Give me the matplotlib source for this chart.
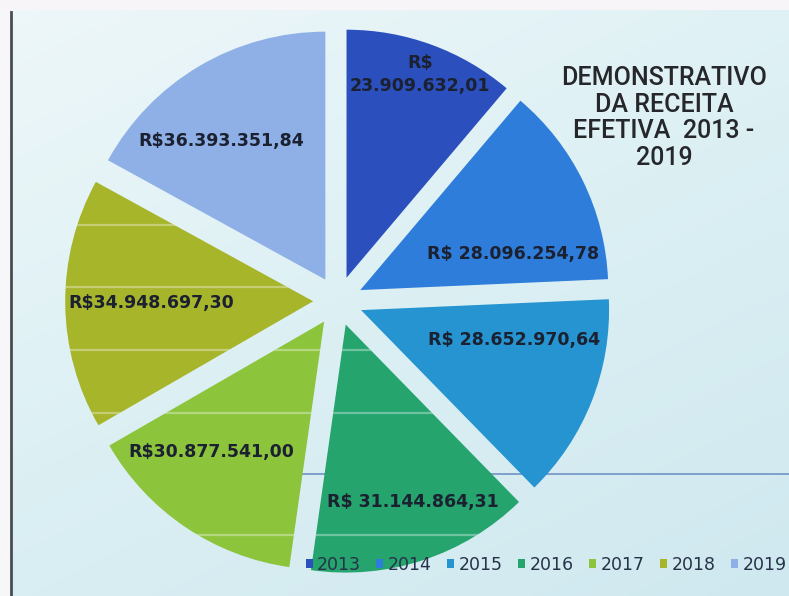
import numpy as np
import matplotlib
matplotlib.use("Agg")
import matplotlib.pyplot as plt
from matplotlib.colors import LinearSegmentedColormap

# Receita efetiva por ano (R$)
anos = ["2013", "2014", "2015", "2016", "2017", "2018", "2019"]
receita = [23909632.01, 28096254.78, 28652970.64, 31144864.31,
           30877541.00, 34948697.30, 36393351.84]
rotulos = ["R$\n23.909.632,01", "R$ 28.096.254,78", "R$ 28.652.970,64",
           "R$ 31.144.864,31", "R$30.877.541,00", "R$34.948.697,30",
           "R$36.393.351,84"]
titulo = "DEMONSTRATIVO\nDA RECEITA\nEFETIVA  2013 -\n2019"

cores = ["#2b4fbd", "#2f7ddb", "#2594d0", "#25a46e",
         "#8cc43c", "#a7b52b", "#8eb0e6"]

W, H = 789, 596
fig = plt.figure(figsize=(W / 100, H / 100), dpi=100)

# soft background wash
bg = fig.add_axes([0, 0, 1, 1], zorder=0)
bg.set_axis_off()
yy, xx = np.mgrid[0:1:200j, 0:1:260j]
t = np.clip(0.55 * yy + 0.35 * xx, 0, 1)
cmap = LinearSegmentedColormap.from_list("bg", ["#eef7f9", "#dcf0f4", "#cfe8ef"])
bg.imshow(t, cmap=cmap, extent=[0, 1, 0, 1], aspect="auto", origin="upper")
bg.set_xlim(0, 1)
bg.set_ylim(0, 1)
bg.axvspan(0, 10 / W, color="#f7f6f8", lw=0)
bg.axhspan(1 - 10 / H, 1, color="#f7f5f7", lw=0)
bg.plot([11 / W, 11 / W], [0, 1 - 12 / H], color="#4a4d52", lw=2)

# pie axes: unit radius ~248 px, centre at (338, 301) px
R = 248.0
cx, cy = 338.0, 301.0
ax = fig.add_axes([0, 0, 1, 1], zorder=1)

wedges, _ = ax.pie(receita, colors=cores, startangle=90, counterclock=False,
                   explode=[0.1] * len(receita), radius=1.0,
                   wedgeprops=dict(linewidth=0), center=(0, 0), frame=False)
ax.set_aspect("equal")
ax.set_xlim(-cx / R, (W - cx) / R)
ax.set_ylim(-(H - cy) / R, cy / R)
ax.set_axis_off()

# faint horizontal light streaks across the lower slices
for yp in [225, 287, 350, 413, 535]:
    yd = (cy - yp) / R
    for w in wedges[3:6]:
        ln, = ax.plot([-1.3, 1.3], [yd, yd], color="white", lw=1.6, alpha=0.35)
        ln.set_clip_path(w)

# thin blue rule on the right
yd = (cy - 474) / R
ax.plot([(300 - cx) / R, (W - cx) / R], [yd, yd], color="#7f9fcb", lw=1.4,
        zorder=0.5)

# value labels (relative to the pie centre, in radius units)
pos_rotulos = [(0.33, 0.915), (0.705, 0.19), (0.71, -0.158), (0.30, -0.81),
               (-0.51, -0.61), (-0.755, -0.008), (-0.47, 0.645)]
for (x, y), txt in zip(pos_rotulos, rotulos):
    ax.text(x, y, txt, ha="center", va="center", fontsize=12.5,
            fontweight="bold", color="#1b2130", linespacing=1.35,
            family=["DejaVu Sans"])

# title block
fig.text(664 / W, 1 - 118 / H, titulo, ha="center", va="center",
         fontsize=18, fontweight="medium", color="#25272b", linespacing=1.15,
         family=["Roboto", "DejaVu Sans"])

leg = fig.legend(wedges, anos, loc="center", ncol=7,
                 bbox_to_anchor=(546 / W, 1 - 565 / H), frameon=False,
                 fontsize=12.5, handlelength=0.4, handleheight=0.4,
                 handletextpad=0.25, columnspacing=0.9, borderpad=0)
for txt in leg.get_texts():
    txt.set_color("#263248")

fig.savefig("out.png", dpi=100)
